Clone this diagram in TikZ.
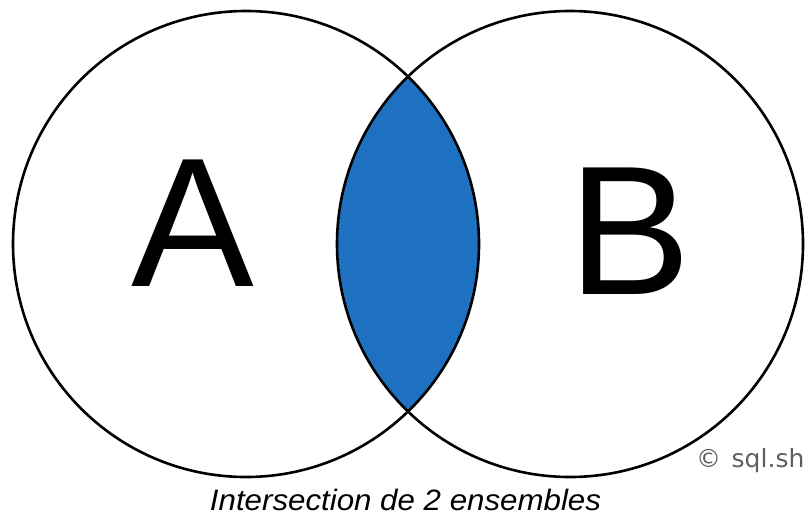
\documentclass[tikz,border=0pt]{standalone}
\usepackage{fontspec}
\setmainfont{Liberation Sans}
\newfontfamily\dejavu{DejaVu Sans}
\definecolor{lensblue}{RGB}{30,112,192}
\definecolor{markgray}{RGB}{95,95,95}
\begin{document}
\begin{tikzpicture}[x=1pt,y=-1pt,
  setcircle/.style={line width=2.6pt,draw=black},
  bigletter/.style={inner sep=0pt,font=\fontsize{184}{184}\selectfont},
  captiontext/.style={inner sep=0pt,anchor=base,font=\fontsize{29.5}{30}\selectfont\itshape},
  marktext/.style={inner sep=0pt,anchor=base west,text=markgray,font=\dejavu\fontsize{25}{25}\selectfont}]
\useasboundingbox (0,0) rectangle (805,515);
\coordinate (ca) at (246,244);
\coordinate (cb) at (570,244);
\begin{scope}
  \clip (ca) circle (233);
  \fill[lensblue] (cb) circle (233);
\end{scope}
\draw[setcircle] (ca) circle (233);
\draw[setcircle] (cb) circle (233);
\node[bigletter] (la) at (192.5,223.5) {A};
\node[bigletter] (lb) at (630,231.5) {B};
\node[captiontext] (cap) at (405.5,510) {\scalebox{1.06}[1]{Intersection de 2 ensembles}};
\node[marktext] (mark) at (696,467) {©\hspace{10.5pt}sql.sh};
\end{tikzpicture}
\end{document}
